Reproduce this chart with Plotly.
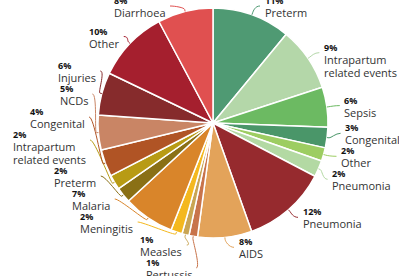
import math
import plotly.graph_objects as go

# ---- data ----
categories = ["Preterm", "Intrapartum<br>related events", "Sepsis", "Congenital", "Other", "Pneumonia",
              "Pneumonia", "AIDS", "Pertussis", "Measles", "Meningitis", "Malaria", "Preterm",
              "Intrapartum<br>related events", "Congenital", "NCDs", "Injuries", "Other", "Diarrhoea"]
values = [11.0, 9.0, 5.6, 2.9, 1.9, 2.3, 11.9, 7.6, 1.2, 1.0, 1.6, 7.2, 2.2, 2.1, 3.8, 4.9, 6.0, 10.1, 7.8]
colors = ["#4f9a73", "#b4d7a9", "#6cba62", "#4a9669", "#9dcd62", "#b3d9a3",
          "#962a2e", "#e3a35a", "#c8744b", "#c9a553", "#f4b81e", "#d9852a", "#8a7015",
          "#b89b14", "#b05425", "#c98565", "#862b2c", "#a51f2e", "#e05050"]

# ---- geometry (pixels) ----
W, H = 399, 276
CX, CY, R = 213, 123, 115
LABEL_R = 125          # radius used to place labels
LINE_H = 13
PCT_H = 10
ANCHOR_OFF = 11        # connector meets the label this far below its top
TOP_LIMIT, BOTTOM_LIMIT = -5, 280
TEXT_GAP = 7.5
MIN_HALF = 18
SIDE_SHIFT = {True: -2, False: 6}


def px(x):
    return x / W


def py(y):
    return 1 - y / H


ids = [f"s{i}" for i in range(len(categories))]

fig = go.Figure(go.Pie(
    labels=ids,
    values=values,
    sort=False,
    direction="clockwise",
    rotation=0,
    marker=dict(colors=colors, line=dict(color="white", width=1.5)),
    textinfo="none",
    showlegend=False,
    hovertext=[c.replace("<br>", " ") for c in categories],
    hoverinfo="text+percent",
    domain=dict(x=[px(CX - R), px(CX + R)], y=[py(CY + R), py(CY - R)]),
))

# ---- label layout (Highcharts-like distribution on each side) ----
total = sum(values)
labels = []
cum = 0.0
for i, v in enumerate(values):
    mid = (cum + v / 2) / total * 2 * math.pi
    cum += v
    nlines = len(categories[i].split("<br>"))
    size = PCT_H + LINE_H * nlines
    anchor = CY - LABEL_R * math.cos(mid)
    labels.append(dict(i=i, ang=mid, right=math.sin(mid) >= 0,
                       size=size, target=anchor - ANCHOR_OFF))


def distribute(items):
    items = sorted(items, key=lambda d: d["target"])
    clusters = [[it] for it in items]

    def place(cl):
        offs, o = [], 0
        for it in cl:
            offs.append(o)
            o += it["size"]
        ideal = sum(it["target"] - off for it, off in zip(cl, offs)) / len(cl)
        top = min(max(ideal, TOP_LIMIT), BOTTOM_LIMIT - o)
        return top, o, offs

    while True:
        placed = [place(cl) for cl in clusters]
        merged = False
        for k in range(len(clusters) - 1):
            t0, s0, _ = placed[k]
            t1, _, _ = placed[k + 1]
            if t0 + s0 > t1 + 0.01:
                clusters[k] = clusters[k] + clusters[k + 1]
                del clusters[k + 1]
                merged = True
                break
        if not merged:
            break
    for cl, (top, _, offs) in zip(clusters, placed):
        for it, off in zip(cl, offs):
            it["top"] = top + off


distribute([d for d in labels if d["right"]])
distribute([d for d in labels if not d["right"]])

annotations = []
shapes = []
for d in labels:
    i = d["i"]
    sgn = 1 if d["right"] else -1
    ay = d["top"] + ANCHOR_OFF
    dy = ay - CY
    half = math.sqrt(max(LABEL_R ** 2 - dy ** 2, 0))
    half = max(half, MIN_HALF)
    conn_x = CX + sgn * half + SIDE_SHIFT[d["right"]]

    name_lines = categories[i].split("<br>")
    txt = f"<span style='font-size:9px;color:#111'><b>{values[i]:.0f}%</b></span>"
    for ln in name_lines:
        txt += f"<br><span style='font-size:11px;color:#333'>{ln}</span>"
    annotations.append(dict(
        xref="paper", yref="paper",
        x=px(conn_x + sgn * TEXT_GAP), y=py(d["top"] - 3),
        xanchor="left" if d["right"] else "right", yanchor="top",
        align="left", showarrow=False, text=txt,
        font=dict(family="Open Sans", size=10, color="#333"),
    ))

    a = d["ang"]
    tx, ty = CX + R * math.sin(a), CY - R * math.cos(a)
    bx, by = CX + (R + 2) * math.sin(a), CY - (R + 2) * math.cos(a)
    c2x, c2y = 2 * bx - tx, 2 * by - ty
    sx = conn_x + sgn * 5
    path = (f"M {px(sx)},{py(ay)} C {px(conn_x)},{py(ay)} {px(c2x)},{py(c2y)} {px(bx)},{py(by)} "
            f"L {px(tx)},{py(ty)}")
    shapes.append(dict(type="path", xref="paper", yref="paper", path=path,
                       line=dict(color=colors[i], width=1)))

fig.update_layout(
    width=W, height=H,
    margin=dict(l=0, r=0, t=0, b=0),
    paper_bgcolor="white",
    plot_bgcolor="white",
    annotations=annotations,
    shapes=shapes,
)

fig.write_html("out.html", config={"displayModeBar": False},
               post_script="document.body.style.margin='0px';")
